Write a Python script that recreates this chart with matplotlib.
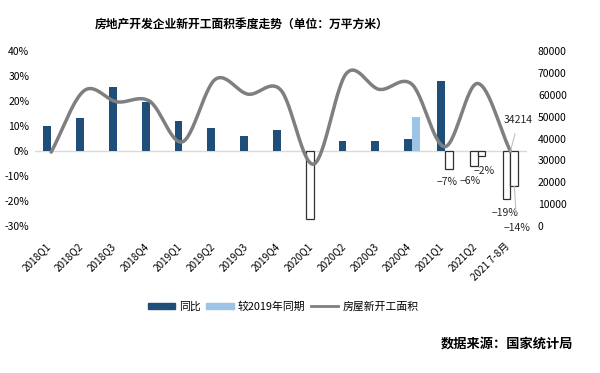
import numpy as np
import matplotlib
matplotlib.use("Agg")
import matplotlib.pyplot as plt
import matplotlib.transforms as mtrans
from matplotlib.patches import Patch
from matplotlib.lines import Line2D

plt.rcParams['font.family'] = ['Noto Sans CJK SC', 'DejaVu Sans']
plt.rcParams['axes.unicode_minus'] = True

quarters = ["2018Q1", "2018Q2", "2018Q3", "2018Q4", "2019Q1", "2019Q2", "2019Q3",
            "2019Q4", "2020Q1", "2020Q2", "2020Q3", "2020Q4", "2021Q1", "2021Q2",
            "2021 7-8月"]
yoy = [9.9, 13.3, 25.5, 19.7, 12.1, 9.1, 6.1, 8.4, -27.2, 4.0, 4.0, 5.0, 28.2, -6.0, -19.0]
vs2019 = [np.nan] * 11 + [13.5, -7.0, -2.0, -14.0]
area = [33800, 61850, 56800, 57100, 38500, 67050, 60300, 62200, 28300, 69800,
        62500, 64800, 36300, 65200, 34214]

DARK = "#1f4e79"
LIGHT = "#9dc3e6"
GRAY = "#7f7f7f"


def catmull_rom(x, y, n=30):
    """Excel-style smoothed line through the points."""
    x = np.asarray(x, float); y = np.asarray(y, float)
    px = np.r_[2 * x[0] - x[1], x, 2 * x[-1] - x[-2]]
    py = np.r_[2 * y[0] - y[1], y, 2 * y[-1] - y[-2]]
    xs, ys = [], []
    for i in range(1, len(px) - 2):
        t = np.linspace(0, 1, n, endpoint=False)
        for p, out in [(px, xs), (py, ys)]:
            p0, p1, p2, p3 = p[i - 1], p[i], p[i + 1], p[i + 2]
            out.append(0.5 * ((2 * p1) + (-p0 + p2) * t
                              + (2 * p0 - 5 * p1 + 4 * p2 - p3) * t ** 2
                              + (-p0 + 3 * p1 - 3 * p2 + p3) * t ** 3))
    xs.append([x[-1]]); ys.append([y[-1]])
    return np.concatenate(xs), np.concatenate(ys)


fig = plt.figure(figsize=(6, 3.73), dpi=100)
ax = fig.add_axes([0.058, 0.394, 0.82, 0.469])
x = np.arange(len(quarters))
w = 0.24

for xs, vals, col in [(x - 0.12, yoy, DARK), (x + 0.12, vs2019, LIGHT)]:
    for xi, v in zip(xs, vals):
        if np.isnan(v):
            continue
        if v >= 0:
            ax.bar(xi, v, w, color=col)
        else:
            ax.bar(xi, v, w, facecolor="white", edgecolor="#303030", lw=0.9)

ax.axhline(0, color="#d9d9d9", lw=1, zorder=0)
ax.set_xlim(-0.5, len(quarters) - 0.5)
ax.set_ylim(-30, 40)
ax.set_yticks(range(-30, 41, 10))
ax.set_yticklabels([f"{v}%" for v in range(-30, 41, 10)], fontsize=7.5)
ax.set_xticks(x)
ax.set_xticklabels(quarters, rotation=45, ha="right", rotation_mode="anchor",
                   fontsize=7.2)
ax.tick_params(length=0, pad=4)
ax.tick_params(axis="x", pad=11)
shift = mtrans.ScaledTranslation(-6 / 100, 0, fig.dpi_scale_trans)
for lbl in ax.get_xticklabels():
    lbl.set_transform(lbl.get_transform() + shift)
for s in ax.spines.values():
    s.set_visible(False)

ax2 = ax.twinx()
sx, sy = catmull_rom(x, area)
ax2.plot(sx, sy, color=GRAY, lw=2.5, solid_capstyle="round")
ax2.set_ylim(0, 80000)
ax2.set_yticks(range(0, 80001, 10000))
ax2.set_yticklabels([str(v) for v in range(0, 80001, 10000)], fontsize=7.5)
ax2.tick_params(length=0, pad=8)
for s in ax2.spines.values():
    s.set_visible(False)

# data labels
lab_kw = dict(fontsize=7.5, color="#262626", ha="center", va="center")
ax.text(12.06, -12.2, "−7%", **lab_kw)
ax.text(12.78, -12.0, "−6%", **lab_kw)
ax.text(13.2, -7.8, "−2%", **lab_kw)
ax.text(13.83, -24.6, "−19%", **lab_kw)
ax.annotate("−14%", xy=(14.12, -14), xytext=(14.2, -30.6),
            arrowprops=dict(arrowstyle="-", color="#bfbfbf", lw=0.8,
                            shrinkA=4, shrinkB=0), **lab_kw)
ax2.annotate(str(area[-1]), xy=(14, area[-1]), xytext=(14.25, 48300),
             arrowprops=dict(arrowstyle="-", color="#bfbfbf", lw=0.8,
                             shrinkA=4, shrinkB=0), **lab_kw)

fig.text(0.402, 0.933, "房地产开发企业新开工面积季度走势（单位：万平方米）",
         ha="center", va="center", fontsize=8.5, fontweight="bold")

handles = [Patch(color=DARK), Patch(color=LIGHT), Line2D([], [], color=GRAY, lw=2)]
fig.legend(handles, ["同比", "较2019年同期", "房屋新开工面积"], loc="center",
           bbox_to_anchor=(0.472, 0.178), ncol=3, frameon=False, fontsize=7.8,
           handlelength=2.5, handleheight=0.5, columnspacing=0.5, handletextpad=0.4)

fig.text(0.955, 0.08, "数据来源：国家统计局", ha="right", va="center",
         fontsize=9.5, fontweight="bold")

fig.savefig("out.png", dpi=100)
plt.close(fig)
